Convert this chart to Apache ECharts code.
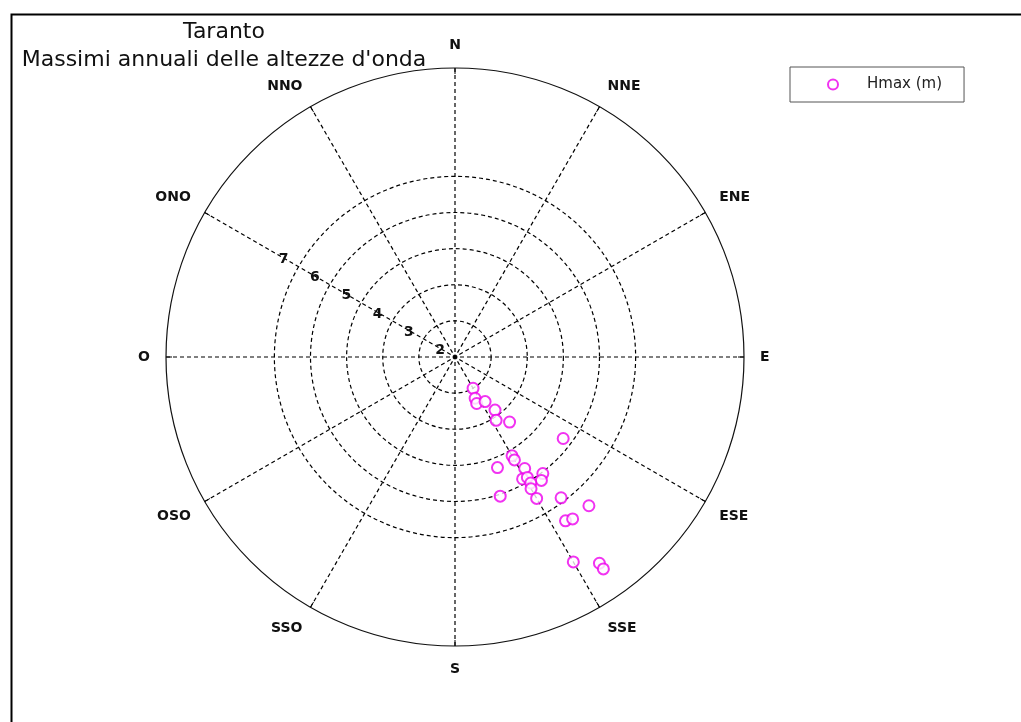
<!DOCTYPE html>
<html>
<head>
<meta charset="utf-8">
<title>Taranto - Massimi annuali delle altezze d'onda</title>
<script src="https://cdn.jsdelivr.net/npm/echarts@6/dist/echarts.min.js"></script>
<style>
    html, body { margin: 0; padding: 0; background: #ffffff; }
    #chart { width: 1021px; height: 722px; }
</style>
</head>
<body>
<div id="chart"></div>
<script>
// Direction labels every 30 degrees, clockwise from north
const DIR_LABELS = ['N', 'NNE', 'ENE', 'E', 'ESE', 'SSE', 'S', 'SSO', 'OSO', 'O', 'ONO', 'NNO'];

// Ring values shown on the inner grid (m)
const RING_TICKS = [2, 3, 4, 5, 6, 7];

// Annual maxima: direction (degrees from north) and wave height (m)
const DIRECTION = [150, 154, 155, 146, 143, 147, 140, 127, 150, 150, 159, 148, 143, 145,
                   151, 149, 149, 150, 162, 150, 143, 138, 146, 144, 150, 145, 145];
const HMAX = [3.0, 3.27, 3.42, 3.49, 3.84, 4.09, 4.35, 5.75, 5.16, 5.29, 5.28, 5.64, 6.04, 6.17,
              5.86, 5.89, 6.07, 6.21, 6.05, 6.52, 6.88, 7.54, 7.47, 7.54, 8.55, 8.97, 9.16];

// Centre of the rose
const CENTRE = [[2, 0]];

const RADIUS_MIN = 2;
const RADIUS_MAX = 10;

const CENTER = [455, 357];
const OUTER_R = 289;
const INNER_R = OUTER_R * (RING_TICKS[RING_TICKS.length - 1] - RADIUS_MIN) / (RADIUS_MAX - RADIUS_MIN);

const LABEL_FONT = 'DejaVu Sans';
const POINT_COLOR = '#ee00ee';

const chart = echarts.init(document.getElementById('chart'), null, { renderer: 'canvas' });

const option = {
    backgroundColor: '#ffffff',
    animation: false,
    title: {
        text: 'Taranto\nMassimi annuali delle altezze d\'onda',
        left: 219,
        top: 13,
        textAlign: 'center',
        textStyle: {
            fontFamily: LABEL_FONT,
            fontSize: 22,
            fontWeight: 'normal',
            color: '#111',
            lineHeight: 28
        }
    },
    legend: {
        data: ['Hmax (m)'],
        left: 790,
        top: 67,
        orient: 'vertical',
        padding: [10, 22, 10, 37],
        borderColor: '#555',
        borderWidth: 1,
        itemWidth: 10,
        itemHeight: 10,
        textStyle: {
            fontFamily: LABEL_FONT,
            fontSize: 15,
            color: '#222',
            padding: [0, 0, 0, 24]
        }
    },
    graphic: [{
        type: 'rect',
        left: 9,
        top: 12,
        shape: { width: 1040, height: 740 },
        style: { fill: null, stroke: '#000', lineWidth: 2 },
        silent: true,
        z: -1
    }],
    polar: [
        { center: CENTER, radius: OUTER_R },
        { center: CENTER, radius: INNER_R }
    ],
    angleAxis: [{
        polarIndex: 0,
        type: 'value',
        min: 0,
        max: 360,
        interval: 30,
        startAngle: 90,
        clockwise: true,
        axisLine: { show: true, lineStyle: { color: '#111', width: 1.2 } },
        axisTick: { show: true, inside: true, length: 6, lineStyle: { color: '#000' } },
        axisLabel: {
            show: true,
            margin: 16,
            fontFamily: LABEL_FONT,
            fontWeight: 'bold',
            fontSize: 14,
            color: '#111',
            formatter: v => DIR_LABELS[Math.round(v / 30)] || ''
        },
        splitLine: { show: true, lineStyle: { color: '#000', type: [4, 3], width: 1.2 } }
    }, {
        polarIndex: 1,
        type: 'value',
        min: 0,
        max: 360,
        startAngle: 150,
        clockwise: true,
        axisLine: { show: false },
        axisTick: { show: false },
        axisLabel: { show: false },
        splitLine: { show: false }
    }],
    radiusAxis: [{
        polarIndex: 0,
        type: 'value',
        min: RADIUS_MIN,
        max: RADIUS_MAX,
        axisLine: { show: false },
        axisTick: { show: false },
        axisLabel: { show: false },
        splitLine: { show: false }
    }, {
        polarIndex: 1,
        type: 'value',
        min: RING_TICKS[0],
        max: RING_TICKS[RING_TICKS.length - 1],
        interval: 1,
        axisLine: { show: false },
        axisTick: { show: false },
        axisLabel: {
            show: true,
            showMinLabel: true,
            showMaxLabel: true,
            margin: 0,
            align: 'right',
            verticalAlign: 'bottom',
            padding: [0, 10, 0, 0],
            fontFamily: LABEL_FONT,
            fontWeight: 'bold',
            fontSize: 14,
            color: '#111',
            formatter: v => RING_TICKS.includes(v) ? String(v) : ''
        },
        splitLine: { show: true, lineStyle: { color: '#000', type: [4, 3], width: 1.2 } }
    }],
    series: [{
        name: 'Hmax (m)',
        type: 'scatter',
        coordinateSystem: 'polar',
        polarIndex: 0,
        symbol: 'emptyCircle',
        symbolSize: 11,
        itemStyle: { color: POINT_COLOR, borderColor: POINT_COLOR, borderWidth: 1.2 },
        data: HMAX.map((h, i) => [h, DIRECTION[i]]),
        z: 5
    }, {
        name: 'centre',
        type: 'scatter',
        coordinateSystem: 'polar',
        polarIndex: 0,
        symbol: 'circle',
        symbolSize: 5,
        itemStyle: { color: '#000' },
        data: CENTRE,
        silent: true,
        z: 6
    }]
};

chart.setOption(option);
</script>
</body>
</html>
